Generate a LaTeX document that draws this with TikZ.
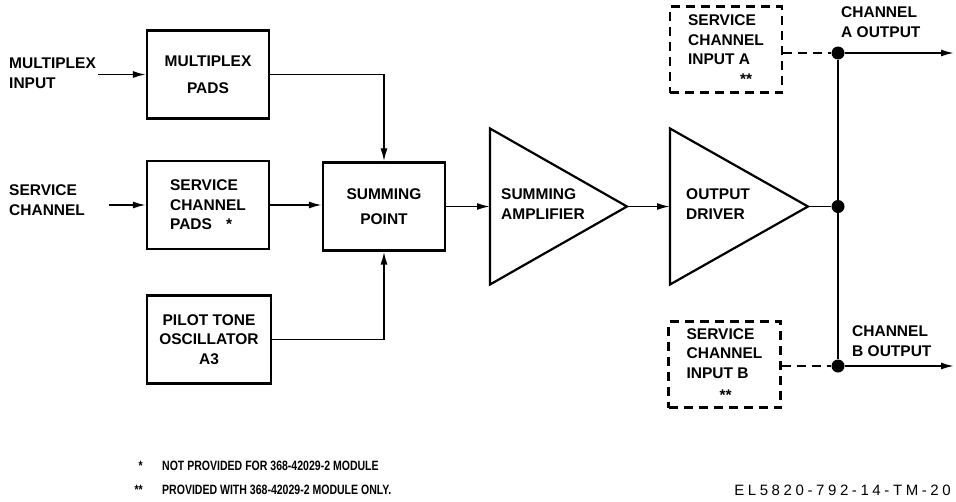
\documentclass[tikz,border=0pt]{standalone}
\usepackage{fontspec}
\newfontfamily\labfont{Liberation Sans}
\newfontfamily\notefont{Liberation Sans}[FakeStretch=0.78]
\newfontfamily\tagfont{Liberation Sans}[LetterSpace=24]
\usetikzlibrary{arrows.meta, calc}

\begin{document}
\begin{tikzpicture}[x=1pt, y=-1pt,
  lab/.style={font=\labfont\bfseries\fontsize{15.5}{19.5}\selectfont, align=left, inner sep=0pt},
  note/.style={font=\notefont\bfseries\fontsize{13.5}{16}\selectfont, inner sep=0pt},
  blk/.style={draw, line width=2.2pt, minimum width=122pt, minimum height=88pt, align=center, inner sep=0pt,
    font=\labfont\bfseries\fontsize{15.5}{19.5}\selectfont},
  opt/.style={blk, dash pattern=on 9pt off 6pt, minimum width=112pt, minimum height=86pt, align=left},
  sig/.style={line width=1.8pt, -{Latex[length=13pt, width=7pt]}},
  bus/.style={line width=1.8pt},
  jct/.style={circle, fill, inner sep=0pt, minimum size=13pt}]
  \useasboundingbox (0,0) rectangle (956,501);

  % ----- Inputs -----
  \node[lab, anchor=west] (mxin) at (9,73) {MULTIPLEX\\INPUT};
  \node[lab, anchor=west] (scin) at (9,200) {SERVICE\\CHANNEL};

  % ----- Blocks -----
  \node[blk] (mxpad) at (208,74.5) {MULTIPLEX\\[8pt]PADS};
  \node[blk, align=left] (scpad) at (208,205) {SERVICE\\CHANNEL\\PADS\hspace{14pt}*};
  \node[blk] (sum) at (384,206.5) {SUMMING\\[5pt]POINT};
  \node[blk, minimum width=124pt] (pilot) at (209,339.5) {PILOT TONE\\OSCILLATOR\\A3};

  % Amplifiers
  \coordinate (ampin) at (490,206.5);
  \coordinate (ampout) at (627,206.5);
  \coordinate (drvin) at (670,206.5);
  \coordinate (drvout) at (808,206.5);
  \draw[line width=2.2pt] ($(ampin)+(0,-78)$) -- (ampout) -- ($(ampin)+(0,78)$) -- cycle;
  \draw[line width=2.2pt] ($(drvin)+(0,-78)$) -- (drvout) -- ($(drvin)+(0,78)$) -- cycle;
  \node[lab, anchor=west] (amptxt) at (501,204) {SUMMING\\AMPLIFIER};
  \node[lab, anchor=west] (drvtxt) at (686,204) {OUTPUT\\DRIVER};

  % ----- Outputs -----
  \node[jct] (jA) at (838,53) {};
  \node[jct] (jM) at (838,206.5) {};
  \node[jct] (jB) at (838,366) {};
  \coordinate (outA) at (954,53);
  \coordinate (outB) at (954,366);
  \node[opt] (scA) at (726,49.5) {SERVICE\\CHANNEL\\INPUT A\\\hspace*{52pt}**};
  \node[opt] (scB) at (724.5,364.5) {SERVICE\\CHANNEL\\INPUT B\\[3pt]\hspace*{33pt}**};
  \node[lab, anchor=west] (chA) at (841,22) {CHANNEL\\A OUTPUT};
  \node[lab, anchor=west] (chB) at (852,341) {CHANNEL\\B OUTPUT};

  % ----- Connectors -----
  \draw[sig, shorten <=2pt] (mxin.east |- mxpad.west) -- (mxpad.west);
  \draw[sig] (mxpad.east) -| (sum.north);
  \draw[sig, shorten <=24pt] (scin.east |- scpad.west) -- (scpad.west);
  \draw[sig] (scpad.east) -- (scpad.east -| sum.west);
  \draw[sig] (pilot.east) -| (sum.south);
  \draw[sig] (sum.east) -- (ampin);
  \draw[sig] (ampout) -- (drvin);
  \draw[bus] (drvout) -- (jM);
  \draw[bus] (jA) -- (jB);
  \draw[sig] (jA) -- (outA);
  \draw[sig] (jB) -- (outB);
  \draw[bus, dash pattern=on 9pt off 6pt] (scA.east |- jA) -- (jA);
  \draw[bus, dash pattern=on 9pt off 6pt] (scB.east |- jB) -- (jB);

  % ----- Notes -----
  \node[note, anchor=east] (st1) at (143,466) {*};
  \node[note, anchor=west] (nt1) at (162,466) {NOT PROVIDED FOR 368-42029-2 MODULE};
  \node[note, anchor=east] (st2) at (143,490) {**};
  \node[note, anchor=west] (nt2) at (162,490) {PROVIDED WITH 368-42029-2 MODULE ONLY.};
  \node[font=\tagfont\fontsize{15}{16}\selectfont, anchor=east, inner sep=0pt] (tag) at (951,490) {EL5820-792-14-TM-20};
\end{tikzpicture}
\end{document}
